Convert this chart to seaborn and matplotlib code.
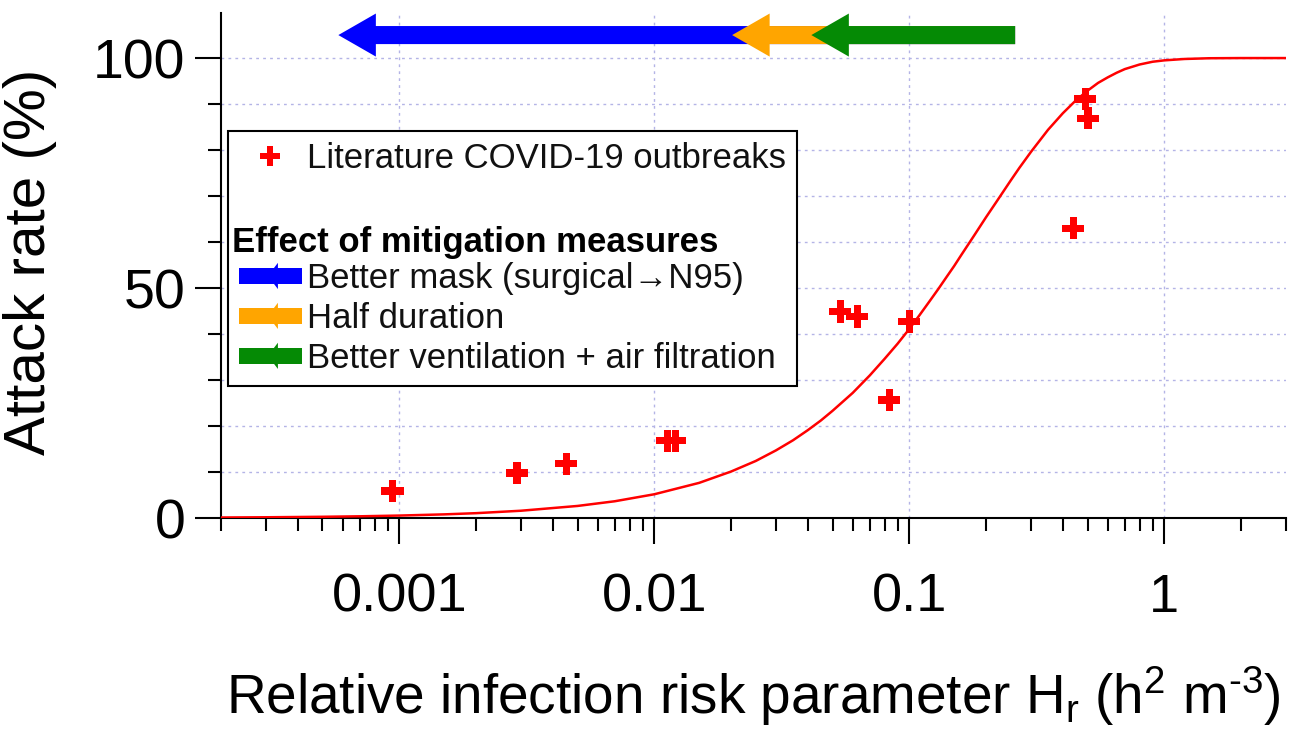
import matplotlib
matplotlib.use("Agg")
import matplotlib.pyplot as plt
import seaborn as sns
from matplotlib.lines import Line2D
from matplotlib.patches import Rectangle, Polygon
from matplotlib.text import Text
from matplotlib.legend_handler import HandlerBase
from matplotlib.ticker import MultipleLocator, LogLocator, NullFormatter, FixedLocator, FixedFormatter

# ---------------- data ----------------
outbreak_hr = [0.00094, 0.0029, 0.00452, 0.01125, 0.0121, 0.0536, 0.0625, 0.0835, 0.100, 0.44, 0.49, 0.503]
outbreak_attack = [5.9, 9.8, 11.8, 16.8, 16.8, 44.9, 43.8, 25.7, 42.7, 63.0, 91.1, 86.9]

model_hr = [0.0002, 0.0003, 0.0005, 0.0007, 0.001, 0.0015, 0.002, 0.003, 0.005, 0.007,
            0.01, 0.015, 0.02, 0.025, 0.03, 0.035, 0.04, 0.045, 0.05, 0.06, 0.07, 0.08, 0.09,
            0.1, 0.11, 0.12, 0.13, 0.14, 0.15, 0.16, 0.18, 0.2, 0.22, 0.25, 0.27, 0.3, 0.35,
            0.4, 0.45, 0.5, 0.55, 0.6, 0.65, 0.7, 0.8, 0.9, 1.0, 1.2, 1.5, 2.0, 3.0]
model_attack = [0.106, 0.159, 0.265, 0.37, 0.53, 0.79, 1.05, 1.58, 2.62, 3.64,
                5.16, 7.64, 10.1, 12.4, 14.7, 16.9, 19.1, 21.2, 23.3, 27.2, 31.0, 34.6, 37.9,
                41.1, 44.2, 47.1, 49.8, 52.4, 54.8, 57.2, 61.5, 65.4, 68.8, 73.4, 76.1, 79.6, 84.4,
                88.0, 90.8, 92.9, 94.6, 95.8, 96.8, 97.6, 98.6, 99.2, 99.5, 99.8, 99.96, 100.0, 100.0]

measure_labels = ["Better mask (surgical\u2192N95)", "Half duration", "Better ventilation + air filtration"]
measure_colors = ["#0000ff", "#ffa500", "#058a05"]
measure_from = [0.26, 0.26, 0.26]
measure_to = [0.000577, 0.0202, 0.0413]
measure_level = [105, 105, 105]

outbreak_label = "Literature COVID-19 outbreaks"
measures_title = "Effect of mitigation measures"

x_ticks = [0.001, 0.01, 0.1, 1]
x_tick_labels = ["0.001", "0.01", "0.1", "1"]
y_ticks = [0, 50, 100]
y_tick_labels = ["0", "50", "100"]

# ---------------- style ----------------
sns.set_theme(style="ticks")
plt.rcParams["font.family"] = ["Liberation Sans", "DejaVu Sans"]
plt.rcParams["mathtext.fontset"] = "custom"
plt.rcParams["mathtext.rm"] = "Liberation Sans"
plt.rcParams["mathtext.it"] = "Liberation Sans:italic"
plt.rcParams["mathtext.bf"] = "Liberation Sans:bold"

fig = plt.figure(figsize=(12.91, 7.38), dpi=100)
ax = fig.add_axes([0.1712, 0.2981, 0.8249, 0.6843])

grid_kw = dict(color="#b4b4e6", linestyle=(0, (2, 3)), linewidth=1.0)

# model curve
sns.lineplot(x=model_hr, y=model_attack, color="#ff0000", linewidth=1.8, ax=ax,
             legend=False, zorder=3)
# outbreaks
sns.scatterplot(x=outbreak_hr, y=outbreak_attack, marker="P", s=256, color="#ff0000",
                linewidth=0, edgecolor="none", ax=ax, legend=False, zorder=4)

# mitigation arrows
for x0, x1, yl, c in zip(measure_from, measure_to, measure_level, measure_colors):
    ax.annotate("", xy=(x1, yl), xytext=(x0, yl), annotation_clip=False,
                arrowprops=dict(arrowstyle="simple,head_length=27,head_width=31,tail_width=13",
                                mutation_scale=1, color=c, shrinkA=0, shrinkB=0, linewidth=0),
                zorder=5)

ax.set_xscale("log")
ax.set_xlim(2e-4, 3)
ax.set_ylim(0, 109.8)

ax.xaxis.set_major_locator(FixedLocator(x_ticks))
ax.xaxis.set_major_formatter(FixedFormatter(x_tick_labels))
ax.xaxis.set_minor_locator(LogLocator(base=10, subs=[2, 3, 4, 5, 6, 7, 8, 9], numticks=20))
ax.xaxis.set_minor_formatter(NullFormatter())
ax.yaxis.set_major_locator(FixedLocator(y_ticks))
ax.yaxis.set_major_formatter(FixedFormatter(y_tick_labels))
ax.yaxis.set_minor_locator(MultipleLocator(10))

ax.set_axisbelow(True)
ax.grid(True, which="major", axis="x", **grid_kw)
ax.grid(True, which="both", axis="y", **grid_kw)

for s in ["top", "right"]:
    ax.spines[s].set_visible(False)
for s in ["left", "bottom"]:
    ax.spines[s].set_color("black")
    ax.spines[s].set_linewidth(1.5)

ax.tick_params(axis="both", which="major", length=18.5, width=1.5, color="black",
               labelsize=40, labelcolor="black", direction="out")
ax.tick_params(axis="x", which="major", labelsize=39, pad=21)
ax.tick_params(axis="both", which="minor", length=9.5, width=1.5, color="black", direction="out")
ax.tick_params(axis="y", which="major", pad=7)

ax.set_ylabel("Attack rate (%)", fontsize=42, color="black")
ax.yaxis.set_label_coords(-0.154, 0.508)
ax.set_xlabel("Relative infection risk parameter H$_\\mathregular{r}$ (h$^\\mathregular{2}$ m$^\\mathregular{\u20103}$)",
              fontsize=39.5, color="black")
ax.xaxis.set_label_coords(0.5, -0.289)


# ---------------- legend ----------------
class HandlerLegendArrow(HandlerBase):
    def create_artists(self, legend, orig_handle, xdescent, ydescent, width, height, fontsize, trans):
        color = orig_handle.get_facecolor()
        x0, y0 = -xdescent, -ydescent
        cy = y0 + height / 2
        sh = height * 0.67
        hh = height * 0.54
        rect = Rectangle((x0, cy - sh / 2), width, sh, facecolor=color, edgecolor="none", transform=trans)
        head = Polygon([[x0 + 0.62 * width, cy + hh], [x0 + 0.46 * width, cy], [x0 + 0.62 * width, cy - hh]],
                       closed=True, facecolor=color, edgecolor="none", transform=trans)
        return [rect, head]


class HandlerTitle(HandlerBase):
    def create_artists(self, legend, orig_handle, xdescent, ydescent, width, height, fontsize, trans):
        x0, y0 = -xdescent, -ydescent
        t = Text(x0 - 5, y0 + height / 2 - 5, orig_handle.get_label(), fontsize=fontsize,
                 fontweight="bold", color="black", ha="left", va="center", transform=trans)
        return [t]


plus_h = Line2D([], [], marker="P", color="#ff0000", linestyle="", markersize=15, markeredgewidth=0)
blank_h = Line2D([], [], linestyle="", marker="")
title_h = Line2D([], [], linestyle="", marker="", label=measures_title)
arrow_hs = [Rectangle((0, 0), 1, 1, facecolor=c) for c in measure_colors]

handler_map = {title_h: HandlerTitle()}
for h in arrow_hs:
    handler_map[h] = HandlerLegendArrow()

leg = ax.legend(handles=[plus_h, blank_h, title_h] + arrow_hs,
                labels=[outbreak_label, " ", " "] + measure_labels,
                loc="upper left", bbox_to_anchor=(0.0066, 0.766), borderaxespad=0,
                fontsize=25, frameon=True, fancybox=False, edgecolor="black", framealpha=1,
                borderpad=0.32, labelspacing=0.2, handlelength=1.8, handletextpad=0.15,
                handler_map=handler_map)
leg.get_frame().set_linewidth(1.5)
for t in leg.get_texts():
    t.set_color("#111111")
leg.set_zorder(6)

fig.savefig("out.png", dpi=100)
